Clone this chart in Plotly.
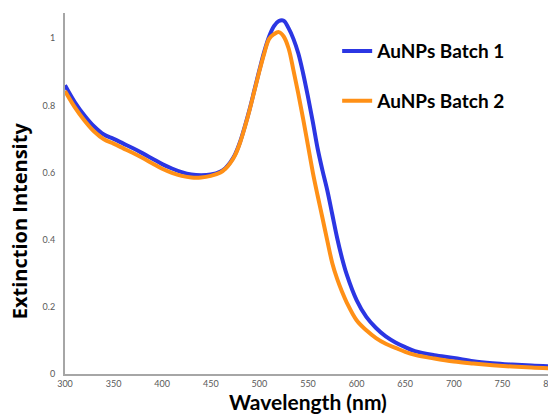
import plotly.graph_objects as go

wl_b1 = [300, 310, 320, 330, 340, 350, 360, 370, 380, 390, 400, 410, 420, 430, 440, 450, 460,
         465, 470, 475, 480, 485, 490, 495, 500, 505, 510, 515, 520, 525, 530, 535, 540, 545,
         550, 555, 560, 565, 570, 575, 580, 585, 590, 600, 610, 620, 630, 640, 650, 660, 680,
         700, 720, 740, 760, 780, 800]
ab_b1 = [0.860, 0.810, 0.770, 0.737, 0.713, 0.700, 0.686, 0.672, 0.657, 0.641, 0.625, 0.612,
         0.601, 0.594, 0.592, 0.594, 0.603, 0.613, 0.630, 0.654, 0.690, 0.737, 0.789, 0.847,
         0.905, 0.960, 1.005, 1.036, 1.051, 1.052, 1.030, 0.998, 0.955, 0.895, 0.825, 0.750,
         0.670, 0.605, 0.545, 0.475, 0.405, 0.345, 0.295, 0.220, 0.170, 0.137, 0.112, 0.094,
         0.080, 0.068, 0.056, 0.048, 0.038, 0.032, 0.028, 0.025, 0.023]

wl_b2 = [300, 310, 320, 330, 340, 350, 360, 370, 380, 390, 400, 410, 420, 430, 440, 450, 460,
         465, 470, 475, 480, 485, 490, 495, 500, 505, 510, 515, 520, 525, 530, 535, 540, 545,
         550, 555, 560, 565, 570, 575, 580, 585, 590, 600, 610, 620, 630, 640, 650, 660, 680,
         700, 720, 740, 760, 780, 800]
ab_b2 = [0.843, 0.795, 0.755, 0.722, 0.699, 0.686, 0.672, 0.658, 0.643, 0.627, 0.611, 0.599,
         0.590, 0.585, 0.585, 0.590, 0.600, 0.611, 0.628, 0.652, 0.688, 0.735, 0.787, 0.845,
         0.902, 0.955, 0.998, 1.012, 1.018, 1.005, 0.970, 0.905, 0.835, 0.760, 0.680, 0.600,
         0.530, 0.463, 0.395, 0.330, 0.283, 0.245, 0.212, 0.160, 0.130, 0.107, 0.090, 0.078,
         0.066, 0.057, 0.046, 0.037, 0.031, 0.026, 0.022, 0.019, 0.017]

series_names = ["AuNPs Batch 1", "AuNPs Batch 2"]
x_ticks = [300, 350, 400, 450, 500, 550, 600, 650, 700, 750, 800]
y_ticks = [0, 0.2, 0.4, 0.6, 0.8, 1]
x_title = "Wavelength (nm)"
y_title = "Extinction Intensity"

fig = go.Figure()
fig.add_trace(go.Scatter(x=wl_b1, y=ab_b1, mode="lines", name=series_names[0],
                         legendgroup="a", line=dict(color="#2B36E3", width=4, shape="spline")))
fig.add_trace(go.Scatter(x=wl_b2, y=ab_b2, mode="lines", name=series_names[1],
                         legendgroup="b", line=dict(color="#FF9016", width=4, shape="spline")))

axis_font = dict(family="Lato, Open Sans, sans-serif", size=9, color="#595959")

fig.update_layout(
    width=556, height=411,
    margin=dict(l=57, r=13, t=5, b=45),
    paper_bgcolor="white", plot_bgcolor="white",
    showlegend=True,
    legend=dict(x=0.56, y=0.947, xanchor="left", yanchor="top",
                font=dict(family="Lato, Open Sans, sans-serif", size=19, color="#000000",
                          weight="bold"),
                tracegroupgap=22, itemwidth=30, bgcolor="rgba(0,0,0,0)"),
    xaxis=dict(range=[300, 800], tickvals=x_ticks, ticktext=[str(v) for v in x_ticks],
               showline=True, linecolor="#A6A6A6", linewidth=2, showgrid=False, zeroline=False,
               ticks="", tickfont=axis_font, automargin=False, ticklabeloverflow="allow",
               title=dict(text="<b>" + x_title + "</b>", standoff=8,
                          font=dict(family="Lato, Open Sans, sans-serif", size=21, color="#000000"))),
    yaxis=dict(range=[0, 1.075], tickvals=y_ticks, ticktext=["0", "0.2", "0.4", "0.6", "0.8", "1"],
               showline=True, linecolor="#A6A6A6", linewidth=2, showgrid=False, zeroline=False,
               ticks="", tickfont=axis_font, ticklabelstandoff=6, automargin=False),
    annotations=[dict(text="<b>" + y_title + "</b>", xref="paper", yref="paper",
                      x=-0.092, y=0.424, xanchor="center", yanchor="middle", textangle=-90,
                      showarrow=False, borderpad=0,
                      font=dict(family="Open Sans, Lato, sans-serif", size=20, color="#000000"))],
)

fig.write_html("out.html")
